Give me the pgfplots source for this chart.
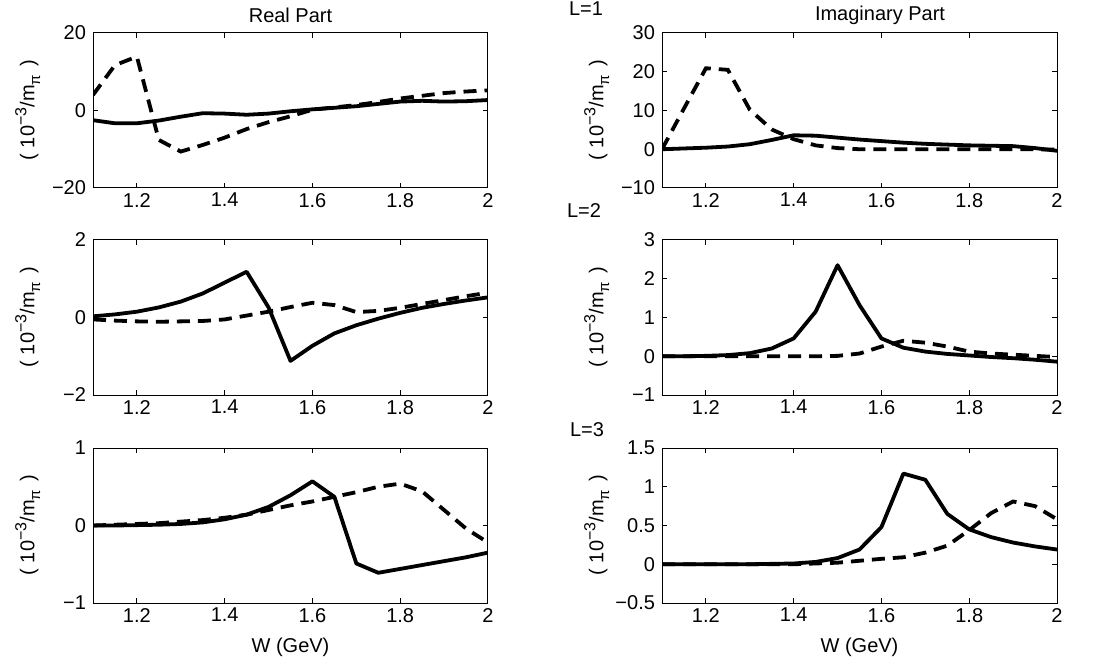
\documentclass[border=0pt]{standalone}
\usepackage{fontspec}
\setmainfont{Liberation Sans}
\usepackage{pgfplots}
\usepackage{pgfplotstable}
\pgfplotsset{compat=1.18}

% W, solid, dashed
\pgfplotstableread{
W    s      d
1.10 -2.5   4.0
1.15 -3.3   11.7
1.20 -3.3   13.9
1.25 -2.6  -7.6
1.30 -1.6  -10.6
1.35 -0.7  -8.9
1.40 -0.8  -7.0
1.45 -1.1  -4.8
1.50 -0.8  -3.0
1.55 -0.2  -1.5
1.60  0.3   0.2
1.65  0.7   0.8
1.70  1.1   1.4
1.75  1.7   2.2
1.80  2.3   3.1
1.85  2.5   3.8
1.90  2.3   4.5
1.95  2.4   4.9
2.00  2.7   5.2
}\ReA
\pgfplotstableread{
W    s      d
1.10  0.0   0.0
1.15  0.2   10.5
1.20  0.4   20.9
1.25  0.7   20.5
1.30  1.3   10.2
1.35  2.4   5.1
1.40  3.6   2.6
1.45  3.5   1.0
1.50  3.0   0.3
1.55  2.5   0.0
1.60  2.1   0.0
1.65  1.7   0.0
1.70  1.4   0.0
1.75  1.2   0.0
1.80  1.0   0.0
1.85  0.9   0.0
1.90  0.8   0.0
1.95  0.3   0.0
2.00 -0.4  -0.1
}\ImA
\pgfplotstableread{
W    s      d
1.10  0.03 -0.05
1.15  0.08 -0.08
1.20  0.15 -0.10
1.25  0.26 -0.11
1.30  0.41 -0.10
1.35  0.62 -0.09
1.40  0.90 -0.05
1.45  1.18  0.05
1.50  0.26  0.15
1.55 -1.12  0.27
1.60 -0.73  0.38
1.65 -0.41  0.32
1.70 -0.20  0.14
1.75 -0.03  0.17
1.80  0.12  0.25
1.85  0.25  0.35
1.90  0.35  0.45
1.95  0.44  0.55
2.00  0.52  0.64
}\ReB
\pgfplotstableread{
W    s      d
1.10  0.00  0.00
1.15  0.00  0.00
1.20  0.01  0.00
1.25  0.03  0.00
1.30  0.08  0.00
1.35  0.20  0.00
1.40  0.46  0.00
1.45  1.15  0.00
1.50  2.35  0.01
1.55  1.32  0.07
1.60  0.46  0.25
1.65  0.22  0.40
1.70  0.12  0.35
1.75  0.06  0.25
1.80  0.02  0.12
1.85 -0.02  0.07
1.90 -0.05  0.04
1.95 -0.09  0.01
2.00 -0.14 -0.02
}\ImB
\pgfplotstableread{
W    s      d
1.10  0.00  0.00
1.15  0.00  0.01
1.20  0.005 0.02
1.25  0.01  0.03
1.30  0.02  0.05
1.35  0.04  0.07
1.40  0.08  0.10
1.45  0.14  0.14
1.50  0.24  0.20
1.55  0.39  0.26
1.60  0.57  0.31
1.65  0.37  0.37
1.70 -0.49  0.43
1.75 -0.61  0.50
1.80 -0.56  0.54
1.85 -0.51  0.44
1.90 -0.46  0.20
1.95 -0.41 -0.04
2.00 -0.35 -0.22
}\ReC
\pgfplotstableread{
W    s      d
1.10  0.00  0.00
1.15  0.00  0.00
1.20  0.00  0.00
1.25  0.00  0.00
1.30  0.00  0.00
1.35  0.005 0.00
1.40  0.01  0.00
1.45  0.03  0.01
1.50  0.08  0.02
1.55  0.19  0.045
1.60  0.48  0.07
1.65  1.17  0.09
1.70  1.09  0.15
1.75  0.65  0.24
1.80  0.45  0.44
1.85  0.35  0.66
1.90  0.28  0.81
1.95  0.23  0.75
2.00  0.19  0.58
}\ImC

\newcommand{\unitlabel}{(\hspace{3pt}10\raisebox{0.75ex}{\fontsize{8}{9}\selectfont −3}/m\raisebox{-0.55ex}{\fontsize{7.5}{9}\selectfont π}\hspace{4pt})}

\pgfplotsset{
  panel/.style={
    scale only axis, width=197.5pt, height=77.5pt,
    anchor=south west,
    xmin=1.1, xmax=2,
    xtick={1.2,1.4,1.6,1.8,2},
    xticklabels={1.2,1.4,1.6,1.8,2},
    xticklabel style={yshift=1pt},
    tick pos=both, tick align=inside,
    major tick length=2.5pt,
    axis line style={line width=0.5pt},
    every tick/.style={black, line width=0.5pt},
    ylabel={\unitlabel},
    every axis y label/.style={at={(axis description cs:-0.165,0.5)}, rotate=90, anchor=center},
    every axis x label/.style={at={(axis description cs:0.5,-0.285)}, anchor=center},
    every axis title/.style={at={(axis description cs:0.5,1.116)}, anchor=center},
    clip mode=individual,
  },
  solid line/.style={black, line width=1.9pt, line join=round},
  dashed line/.style={black, line width=1.9pt, dash pattern=on 6.5pt off 4pt},
}

\begin{document}
\begin{tikzpicture}[font=\fontsize{10}{12}\selectfont]
\useasboundingbox (0,0) rectangle (547.5pt,332.5pt);

% Row 1
\begin{axis}[panel, at={(46.5pt,238.5pt)}, title={Real Part},
  ymin=-20, ymax=20, ytick={-20,0,20}, yticklabels={−20,0,20}]
  \addplot[solid line] table[x=W, y=s] {\ReA};
  \addplot[dashed line] table[x=W, y=d] {\ReA};
\end{axis}
\begin{axis}[panel, at={(331pt,238.5pt)}, title={Imaginary Part},
  every axis title/.style={at={(axis description cs:0.552,1.116)}, anchor=center},
  ymin=-10, ymax=30, ytick={-10,0,10,20,30}, yticklabels={−10,0,10,20,30}]
  \addplot[solid line] table[x=W, y=s] {\ImA};
  \addplot[dashed line] table[x=W, y=d] {\ImA};
\end{axis}

% Row 2
\begin{axis}[panel, at={(46.5pt,135pt)},
  ymin=-2, ymax=2, ytick={-2,0,2}, yticklabels={−2,0,2}]
  \addplot[solid line] table[x=W, y=s] {\ReB};
  \addplot[dashed line] table[x=W, y=d] {\ReB};
\end{axis}
\begin{axis}[panel, at={(331pt,135pt)},
  ymin=-1, ymax=3, ytick={-1,0,1,2,3}, yticklabels={−1,0,1,2,3}]
  \addplot[solid line] table[x=W, y=s] {\ImB};
  \addplot[dashed line] table[x=W, y=d] {\ImB};
\end{axis}

% Row 3
\begin{axis}[panel, at={(46.5pt,31pt)}, xlabel={W (GeV)},
  ymin=-1, ymax=1, ytick={-1,0,1}, yticklabels={−1,0,1}]
  \addplot[solid line] table[x=W, y=s] {\ReC};
  \addplot[dashed line] table[x=W, y=d] {\ReC};
\end{axis}
\begin{axis}[panel, at={(331pt,31pt)}, xlabel={W (GeV)},
  ymin=-0.5, ymax=1.5, ytick={-0.5,0,0.5,1,1.5}, yticklabels={−0.5,0,0.5,1,1.5}]
  \addplot[solid line] table[x=W, y=s] {\ImC};
  \addplot[dashed line] table[x=W, y=d] {\ImC};
\end{axis}

\node at (293pt,328pt) {L=1};
\node at (292pt,227pt) {L=2};
\node at (293.5pt,117.5pt) {L=3};
\end{tikzpicture}
\end{document}
